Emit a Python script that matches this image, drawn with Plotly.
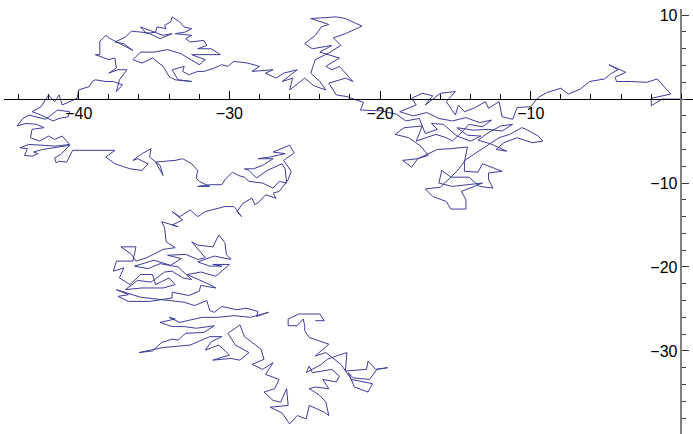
import plotly.graph_objects as go

# Random-walk path in data units, in walk order.
seg_start = [
    (0, 0), (-1.3, 0.0), (-2.0, -0.8), (-2.0, 0.1), (-0.7, 0.6), (-1.6, 2.4), (-2.3, 2.0),
    (-3.3, 2.1), (-4.3, 2.1), (-4.4, 2.6), (-3.7, 3.2), (-4.8, 4.1), (-4.2, 3.5), (-4.7, 3.0),
    (-5.1, 2.4), (-6.1, 2.1), (-6.7, 1.2), (-7.5, 0.6), (-8.0, 1.3), (-8.9, 0.8), (-9.5, 0.2),
    (-10.0, -0.9), (-10.9, -1.0),
]
seg_cluster_right = [
    (-11.0, -1.5), (-11.2, -2.4), (-11.9, -2.1), (-12.1, -0.3), (-12.8, -1.1), (-13.0, -0.3),
    (-13.8, -1.1), (-14.4, -1.5), (-14.8, -0.7), (-15.0, -1.9), (-15.6, -0.3), (-15.0, 0.9),
    (-16.0, 0.7), (-17.0, -0.7), (-16.5, 0.4), (-17.2, 0.7), (-17.9, 0.1), (-17.6, -0.7),
    (-18.7, -1.5), (-17.8, -2.0), (-16.9, -1.6), (-16.1, -2.3), (-15.2, -2.6), (-14.3, -2.2),
    (-13.4, -2.8), (-12.6, -2.5), (-13.2, -3.3), (-14.1, -3.0), (-14.5, -3.8), (-15.2, -5.0),
    (-15.6, -4.6), (-16.3, -4.2), (-17.6, -5.0), (-17.2, -3.2), (-18.4, -3.4), (-19.0, -4.2),
    (-18.1, -4.6), (-17.3, -5.6), (-16.8, -6.7), (-17.5, -7.1), (-18.5, -7.3), (-17.9, -8.1),
    (-17.5, -7.1), (-16.2, -6.0), (-15.3, -5.9), (-14.2, -5.7),
]
seg_loop = [
    (-14.4, -7.5), (-14.4, -8.6), (-13.5, -8.7), (-13.2, -7.7), (-11.9, -8.6), (-12.8, -8.8),
    (-12.8, -9.6), (-12.5, -10.6), (-13.4, -10.4), (-14.1, -9.3), (-15.3, -9.3), (-15.9, -8.5),
    (-16.1, -10.0), (-15.2, -10.4), (-13.2, -10.0), (-14.0, -10.6), (-14.6, -11.0), (-14.3, -12.0),
    (-14.3, -13.1), (-15.3, -13.1), (-15.6, -12.2), (-16.5, -11.6), (-17.0, -10.7), (-16.0, -10.5),
    (-15.5, -9.6), (-14.9, -8.6), (-14.3, -7.2), (-13.4, -6.1), (-12.1, -4.6), (-11.4, -4.2),
    (-10.6, -3.4), (-10.3, -3.6), (-9.5, -4.4), (-9.2, -5.0), (-9.9, -5.2), (-10.9, -4.6),
    (-11.8, -5.2), (-12.3, -6.0), (-11.6, -6.2), (-12.7, -5.3), (-13.5, -4.9), (-12.9, -4.1),
    (-12.0, -3.2), (-11.2, -3.0), (-11.9, -3.8), (-12.8, -3.6), (-13.8, -3.7), (-14.9, -3.4),
    (-14.2, -4.3), (-13.3, -4.4), (-14.0, -5.0), (-14.9, -4.4), (-15.8, -3.0), (-16.6, -2.9),
    (-16.2, -3.6), (-17.0, -4.1), (-17.4, -2.3), (-18.3, -2.6), (-18.9, -1.8), (-19.9, -1.4),
    (-21.3, -1.3), (-21.1, -0.4),
]
seg_tower = [
    (-22.2, 0.3), (-22.9, 0.5), (-23.4, 1.9), (-22.3, 2.5), (-21.8, 2.1), (-22.7, 3.9),
    (-23.2, 3.5), (-23.6, 3.9), (-22.7, 4.9), (-24.0, 5.6), (-23.2, 6.4), (-24.5, 6.0),
    (-25.0, 6.6), (-24.3, 7.6), (-23.9, 8.6), (-23.4, 8.9), (-24.6, 9.6), (-22.9, 9.8),
    (-22.3, 9.6), (-21.2, 8.7), (-22.3, 7.8), (-23.1, 7.3), (-22.6, 6.4), (-23.4, 5.5),
    (-24.3, 4.7), (-24.6, 3.1), (-24.0, 2.1), (-23.6, 1.1), (-24.4, 1.6), (-25.0, 2.5),
]
seg_band = [
    (-25.3, 2.1), (-26.0, 1.1), (-25.8, 2.5), (-26.5, 2.1), (-25.5, 3.5), (-26.4, 3.1),
    (-26.9, 2.5), (-27.6, 3.1), (-27.1, 3.5), (-28.5, 3.3), (-28.0, 3.9), (-28.8, 4.3),
    (-29.7, 4.5), (-30.1, 3.9), (-30.5, 4.1), (-31.0, 3.7), (-31.7, 3.3), (-32.1, 3.3),
    (-32.7, 2.9), (-33.1, 3.3), (-33.0, 3.9), (-33.8, 3.5), (-33.4, 2.3), (-32.5, 2.1),
    (-33.6, 2.3), (-34.0, 2.7), (-34.4, 3.9), (-35.1, 4.9), (-35.8, 4.3), (-36.4, 4.7),
    (-35.9, 5.6), (-35.0, 5.6), (-34.1, 5.9), (-33.2, 5.4), (-32.0, 4.1), (-31.6, 4.7),
    (-32.5, 5.3), (-30.6, 5.3), (-31.2, 6.0), (-32.1, 6.0), (-31.5, 6.4), (-31.7, 7.0),
    (-32.6, 6.8), (-32.9, 7.2), (-32.5, 7.6), (-33.6, 7.8), (-32.9, 8.0), (-32.5, 8.4),
    (-33.0, 8.6), (-33.3, 9.2), (-33.8, 9.8), (-33.9, 9.2), (-34.3, 8.8), (-34.2, 8.4),
    (-34.8, 8.6), (-34.9, 8.0), (-35.5, 7.8), (-35.9, 8.6), (-34.4, 7.6), (-33.8, 7.8),
    (-34.6, 7.2), (-35.4, 7.9), (-36.5, 8.1), (-36.9, 7.4), (-37.6, 6.8), (-37.0, 6.6),
    (-36.4, 5.8), (-37.9, 7.2), (-38.2, 7.6), (-38.6, 6.9), (-38.6, 5.3), (-38.9, 5.3),
    (-38.6, 5.1), (-38.0, 4.7), (-37.6, 4.9), (-37.5, 3.7), (-38.0, 3.1), (-37.4, 3.5),
    (-36.8, 3.5), (-37.3, 2.3), (-37.5, 0.9), (-37.1, 1.7), (-37.7, 2.1), (-38.2, 2.1),
    (-38.9, 2.3), (-39.1, 2.1), (-39.3, 1.5), (-40.0, 1.1), (-40.1, 0.1),
]
seg_far_left = [
    (-40.8, -0.5), (-41.1, -0.7), (-41.3, 0.5), (-41.6, -0.3), (-42.0, 0.5), (-42.5, -0.9),
    (-43.1, -1.5), (-42.5, -1.9), (-41.7, -2.6), (-41.3, -2.3), (-40.7, -2.1), (-40.6, -1.5),
    (-41.4, -1.3), (-42.2, -2.4), (-43.3, -1.9), (-43.7, -2.3), (-44.1, -3.2), (-43.5, -2.9),
    (-42.8, -3.0), (-42.3, -3.4), (-43.1, -3.6), (-43.2, -4.6), (-42.6, -5.0), (-42.0, -4.4),
    (-41.6, -4.8), (-41.1, -4.4), (-40.6, -5.4), (-41.5, -5.6), (-43.3, -5.4), (-43.9, -5.8),
    (-43.4, -5.9), (-43.6, -6.7), (-43.1, -6.8), (-42.7, -6.5), (-43.0, -6.3), (-42.4, -6.0),
    (-40.6, -5.5), (-41.2, -6.6), (-41.6, -7.0), (-41.5, -7.6), (-41.3, -7.4), (-40.8, -7.5),
    (-40.4, -6.1), (-39.2, -6.1), (-37.6, -6.1), (-38.2, -6.9), (-37.6, -7.7), (-36.6, -8.3),
    (-35.8, -8.5), (-35.4, -7.7), (-36.1, -7.1), (-36.4, -7.3), (-35.8, -6.5), (-35.2, -5.9),
    (-35.3, -6.9), (-34.6, -7.9), (-34.4, -9.1), (-34.9, -7.5), (-33.6, -7.3),
]
seg_mid_band = [
    (-33.1, -7.1), (-32.5, -7.7), (-32.1, -8.5), (-32.2, -9.4), (-32.0, -9.8), (-31.3, -10.4),
    (-32.1, -10.4), (-31.3, -10.2), (-30.5, -10.2), (-30.3, -9.6), (-29.8, -8.7), (-29.4, -9.1),
    (-29.0, -9.3), (-28.7, -9.8), (-27.8, -10.0), (-27.1, -10.6), (-26.7, -9.8), (-26.2, -10.0),
    (-26.3, -8.3), (-26.5, -7.7), (-27.5, -8.5), (-28.2, -9.4), (-28.7, -8.5), (-29.0, -8.3),
    (-28.4, -8.3), (-27.8, -7.9), (-27.1, -7.1), (-28.1, -7.1), (-27.3, -6.9), (-26.7, -6.7),
    (-26.3, -6.5), (-27.1, -6.3), (-26.0, -5.5), (-25.7, -6.4), (-26.4, -7.3), (-25.9, -8.6),
    (-26.1, -9.6), (-26.7, -11.0),
]
seg_low_band = [
    (-27.1, -11.2), (-26.9, -11.8), (-27.6, -11.4), (-28.0, -12.2), (-28.3, -12.6), (-28.5, -11.8),
    (-29.1, -12.4), (-29.5, -13.4), (-29.2, -14.0), (-29.6, -13.0), (-29.7, -12.8), (-30.3, -12.8),
    (-31.1, -13.2), (-31.6, -13.4), (-32.1, -14.0), (-32.6, -13.2), (-33.3, -14.0), (-33.8, -13.4),
    (-33.1, -14.4), (-33.8, -15.0), (-33.4, -15.2), (-34.5, -14.6), (-34.3, -15.3), (-34.2, -17.0),
    (-33.6, -17.7), (-34.4, -17.9),
]
seg_knot = [
    (-35.5, -18.9), (-36.2, -19.3), (-36.5, -18.5), (-37.2, -17.6), (-36.2, -17.6), (-36.4, -19.3),
    (-37.5, -19.3), (-37.7, -20.5), (-37.0, -20.1), (-37.3, -21.3), (-36.6, -22.1), (-35.9, -20.9),
    (-35.1, -20.9), (-34.9, -22.1), (-34.0, -21.3), (-33.6, -22.1), (-34.4, -22.5), (-35.8, -22.5),
    (-36.9, -22.7), (-36.1, -21.6), (-35.2, -21.8), (-34.3, -20.6), (-33.8, -20.5), (-33.1, -21.3),
    (-32.5, -21.5), (-33.4, -20.0), (-34.6, -19.6), (-35.4, -20.2), (-36.3, -19.9), (-35.0, -19.2),
    (-33.9, -19.8), (-33.2, -19.0), (-34.1, -18.6), (-32.9, -18.5), (-32.1, -19.1), (-31.6, -18.9),
    (-32.5, -17.0), (-32.1, -17.4), (-31.1, -17.6), (-30.7, -16.2), (-30.3, -17.1), (-30.2, -18.5),
    (-29.9, -19.1), (-31.0, -18.7), (-32.1, -19.4), (-31.3, -19.9), (-30.5, -19.9), (-31.1, -19.7),
    (-30.0, -19.7), (-30.9, -21.1), (-31.9, -20.6), (-32.8, -20.9), (-31.3, -22.1), (-30.9, -22.5),
    (-31.9, -22.2), (-32.0, -22.9), (-32.7, -23.4), (-33.8, -23.0), (-33.8, -23.7), (-35.3, -24.1),
    (-36.7, -24.1), (-37.4, -23.5), (-36.7, -23.3), (-37.5, -22.7),
]
seg_lower = [
    (-35.9, -23.6), (-33.0, -24.2), (-32.3, -24.6), (-31.5, -24.0), (-31.3, -25.2), (-31.0, -25.4),
    (-30.5, -24.7), (-29.5, -25.1), (-28.9, -24.9), (-28.1, -25.3), (-28.2, -25.9), (-27.4, -25.4),
    (-28.6, -26.0), (-29.7, -25.8), (-30.8, -26.0), (-31.8, -26.0), (-33.3, -26.6), (-34.0, -26.0),
    (-33.6, -26.2), (-34.6, -26.6), (-33.8, -27.1), (-33.0, -27.1), (-32.2, -27.3), (-31.0, -27.0),
    (-31.7, -27.8), (-32.9, -27.9), (-33.4, -28.7), (-33.8, -28.6), (-34.5, -29.0), (-35.1, -30.0),
    (-36.0, -30.2), (-34.4, -29.6), (-32.6, -29.3), (-32.0, -28.8), (-31.3, -28.3), (-30.5, -28.3),
    (-31.2, -28.9), (-31.6, -29.9), (-30.7, -29.3), (-30.0, -30.5), (-31.1, -31.1), (-29.9, -30.9),
    (-29.3, -31.1), (-28.7, -30.2), (-29.6, -29.3), (-30.1, -27.9), (-29.3, -26.9), (-29.0, -28.3),
    (-28.5, -29.0),
]
seg_bottom = [
    (-27.9, -29.8), (-27.7, -31.0), (-28.5, -31.6), (-27.8, -32.2), (-27.1, -31.4), (-27.6, -32.8),
    (-26.7, -33.4), (-27.0, -34.5), (-27.7, -34.9), (-27.1, -35.9), (-26.6, -36.1), (-26.2, -34.5),
    (-26.1, -36.5), (-27.3, -36.7), (-26.5, -37.4), (-26.0, -38.7), (-25.8, -38.3), (-25.5, -37.7),
    (-24.9, -38.1), (-24.7, -36.5), (-23.7, -37.3), (-23.4, -37.7), (-23.6, -36.1), (-24.0, -35.3),
    (-24.7, -34.5), (-24.3, -34.3), (-23.4, -34.5), (-23.8, -33.4), (-22.9, -33.7), (-22.7, -33.0),
    (-23.2, -32.2), (-24.5, -32.6), (-24.7, -31.8), (-24.9, -32.6), (-23.9, -31.6), (-23.5, -31.0),
    (-22.9, -30.6), (-22.2, -30.2),
]
seg_end = [
    (-22.3, -32.4), (-20.9, -32.2), (-20.8, -31.2), (-20.3, -32.2), (-19.5, -32.0), (-20.2, -32.2),
    (-20.7, -33.4), (-21.8, -33.2), (-22.1, -32.6), (-21.7, -34.3), (-20.8, -34.9), (-20.5, -33.9),
    (-21.9, -33.4), (-22.6, -31.6), (-23.6, -30.2), (-24.3, -30.6), (-23.4, -29.2), (-24.7, -28.4),
    (-25.0, -27.6), (-25.0, -27.0), (-25.1, -26.2), (-25.5, -27.0), (-26.1, -27.0), (-26.1, -26.2),
    (-25.4, -25.6), (-24.0, -25.6), (-23.7, -26.4), (-24.3, -26.4),
]

x_tick_vals = [-40, -30, -20, -10]
x_tick_text = ["\u221240", "\u221230", "\u221220", "\u221210"]
y_tick_vals = [-30, -20, -10, 10]
y_tick_text = ["\u221230", "\u221220", "\u221210", "10"]

segments = [seg_start, seg_cluster_right, seg_loop, seg_tower, seg_band, seg_far_left,
            seg_mid_band, seg_low_band, seg_knot, seg_lower, seg_bottom, seg_end]
path = [p for seg in segments for p in seg]
xs = [p[0] for p in path]
ys = [p[1] for p in path]

fig = go.Figure()
fig.add_trace(go.Scatter(x=xs, y=ys, mode="lines",
                         line=dict(color="rgb(61,61,153)", width=1),
                         hoverinfo="skip", showlegend=False))

font = dict(family="Liberation Sans, Arial, sans-serif", size=16, color="black")
fig.update_layout(
    width=693, height=434,
    margin=dict(l=0, r=0, t=0, b=0),
    paper_bgcolor="white", plot_bgcolor="white",
    showlegend=False,
    xaxis=dict(
        range=[-44.94, 0.77], domain=[0.0062, 1],
        anchor="free", position=0.775, side="bottom",
        showline=True, linecolor="black", linewidth=1,
        showgrid=False, zeroline=False,
        ticks="inside", ticklen=8, tickwidth=1, tickcolor="black",
        tickvals=x_tick_vals, ticktext=x_tick_text, tickfont=font,
        minor=dict(tickmode="linear", tick0=0, dtick=2, ticks="inside",
                   ticklen=5, tickwidth=1, tickcolor="black"),
    ),
    yaxis=dict(
        range=[-39.9, 10.78], domain=[0, 0.9846],
        anchor="free", position=0.9833, side="left",
        showline=True, linecolor="rgb(128,128,128)", linewidth=1.5,
        showgrid=False, zeroline=False,
        ticks="inside", ticklen=7, tickwidth=1, tickcolor="rgb(60,60,60)",
        tickvals=y_tick_vals, ticktext=y_tick_text, tickfont=font,
        minor=dict(tickmode="linear", tick0=0, dtick=2, ticks="inside",
                   ticklen=4, tickwidth=1, tickcolor="rgb(60,60,60)"),
    ),
)

fig.write_html("out.html", config={"displayModeBar": False})
